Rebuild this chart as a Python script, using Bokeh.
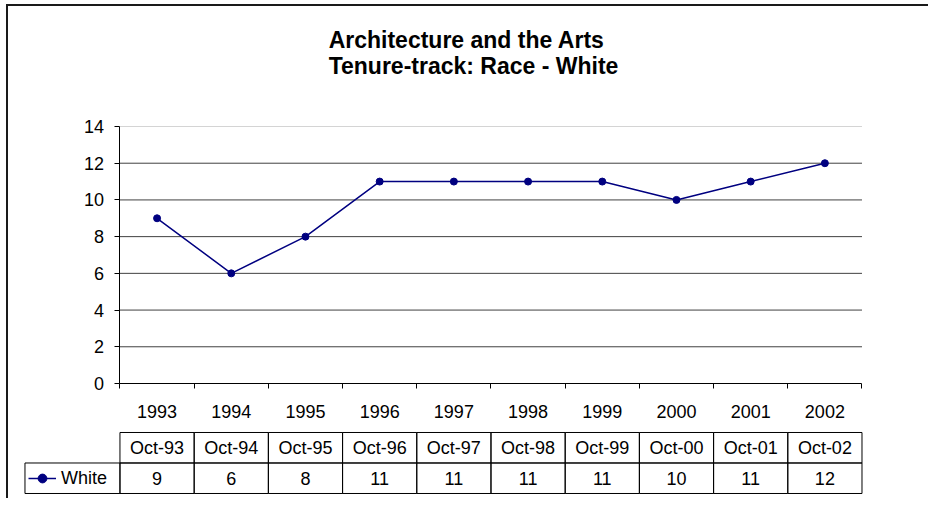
from bokeh.plotting import figure
from bokeh.models import Range1d, FixedTicker, LinearAxis, Legend, LegendItem
from bokeh.layouts import column
from bokeh.core.properties import value
from bokeh.embed import file_html
from bokeh.resources import INLINE

# ---- data ----
years = ["1993", "1994", "1995", "1996", "1997", "1998", "1999", "2000", "2001", "2002"]
months = ["Oct-93", "Oct-94", "Oct-95", "Oct-96", "Oct-97", "Oct-98", "Oct-99", "Oct-00", "Oct-01", "Oct-02"]
white = [9, 6, 8, 11, 11, 11, 11, 10, 11, 12]
y_ticks = [0, 2, 4, 6, 8, 10, 12, 14]
series_name = "White"
title_text = "Architecture and the Arts\nTenure-track: Race - White"

FONT = "Liberation Sans"
NAVY = "#000080"
LABEL_SIZE = "18px"
n = len(years)
idx = list(range(n))
centers = [i + 0.5 for i in idx]
edges = list(range(n + 1))
legend_w = 1.28  # width of the legend cell, in category widths

# one frame holds the plot area and the data table below it
# (the frame reaches further right so that the centred title sits where it should)
p = figure(x_range=Range1d(-1.3, n + 0.829), y_range=Range1d(-6.047, 15.634),
           frame_width=900, frame_height=398,
           min_border_left=15, min_border_right=5, min_border_top=90, min_border_bottom=4,
           x_axis_location=None, y_axis_location=None, toolbar_location=None,
           output_backend="svg", outline_line_color=None, title=title_text)
p.grid.visible = False
p.extra_y_ranges = {"table": Range1d(-0.033, 13.016)}

p.title.align = "center"
p.title.standoff = 36
p.title.text_font = FONT
p.title.text_font_size = "23px"
p.title.text_font_style = "bold"
p.title.text_color = "black"

# horizontal grid lines (top one light, as in the reference)
grid_vals = y_ticks[1:]
grid_cols = ["#404040"] * (len(grid_vals) - 1) + ["#d4d4d4"]
p.segment(x0=[edges[0]] * len(grid_vals), x1=[edges[-1]] * len(grid_vals),
          y0=grid_vals, y1=grid_vals, line_color=grid_cols, line_width=1)

# y axis at x = 0
yax = LinearAxis(fixed_location=0, bounds=(y_ticks[0], y_ticks[-1]),
                 ticker=FixedTicker(ticks=y_ticks),
                 major_tick_out=5, major_tick_in=0, minor_tick_line_color=None,
                 axis_line_color="black", major_tick_line_color="black",
                 major_label_text_font=FONT, major_label_text_font_size=LABEL_SIZE,
                 major_label_text_color="black", major_label_standoff=11)
p.add_layout(yax, "left")

# x axis: line + ticks at category edges, labels at category centres
edge_axis = LinearAxis(fixed_location=0, bounds=(edges[0], edges[-1]),
                       ticker=FixedTicker(ticks=edges),
                       major_label_overrides={e: "" for e in edges},
                       major_tick_out=5, major_tick_in=0,
                       minor_tick_line_color=None, axis_line_color="black",
                       major_tick_line_color="black")
p.add_layout(edge_axis, "below")
cat_axis = LinearAxis(fixed_location=0, bounds=(edges[0], edges[-1]),
                      ticker=FixedTicker(ticks=centers),
                      major_label_overrides={c: y for c, y in zip(centers, years)},
                      axis_line_color=None, major_tick_line_color=None,
                      major_tick_out=0, minor_tick_line_color=None,
                      major_label_text_font=FONT, major_label_text_font_size=LABEL_SIZE,
                      major_label_text_color="black", major_label_standoff=22)
p.add_layout(cat_axis, "below")

# series
lr = p.line(centers, white, line_color=NAVY, line_width=1.5)
sr = p.scatter(centers, white, size=7, fill_color=NAVY, line_color=NAVY)

# ---- data table ----
right = [i + 1 for i in idx]
p.quad(left=idx, right=right, bottom=1, top=2, fill_color=None, line_color="black",
       line_width=1, y_range_name="table")
p.quad(left=idx, right=right, bottom=0, top=1, fill_color=None, line_color="black",
       line_width=1, y_range_name="table")
p.quad(left=[-legend_w], right=[0], bottom=[0], top=[1], fill_color=None, line_color="black",
       line_width=1, y_range_name="table")

p.text(x=centers, y=[1.5] * n, text=months, text_align="center", text_baseline="middle",
       text_font=value(FONT), text_font_size=LABEL_SIZE, text_color="black", y_range_name="table")
p.text(x=centers, y=[0.5] * n, text=[str(v) for v in white], text_align="center",
       text_baseline="middle", text_font=value(FONT), text_font_size=LABEL_SIZE,
       text_color="black", y_range_name="table")

leg = Legend(items=[LegendItem(label=series_name, renderers=[lr, sr])], location="bottom_left",
             padding=0, margin=5, spacing=0, glyph_width=28, glyph_height=22,
             label_standoff=5, label_text_font=FONT, label_text_font_size=LABEL_SIZE,
             label_text_color="black", border_line_color=None, background_fill_alpha=0)
p.add_layout(leg)

layout = column(p, styles={"margin-left": "6px", "margin-top": "4px",
                           "border-left": "2px solid #1a1a1a", "border-top": "2px solid #1a1a1a"})

open("out.html", "w").write(file_html(layout, INLINE))
